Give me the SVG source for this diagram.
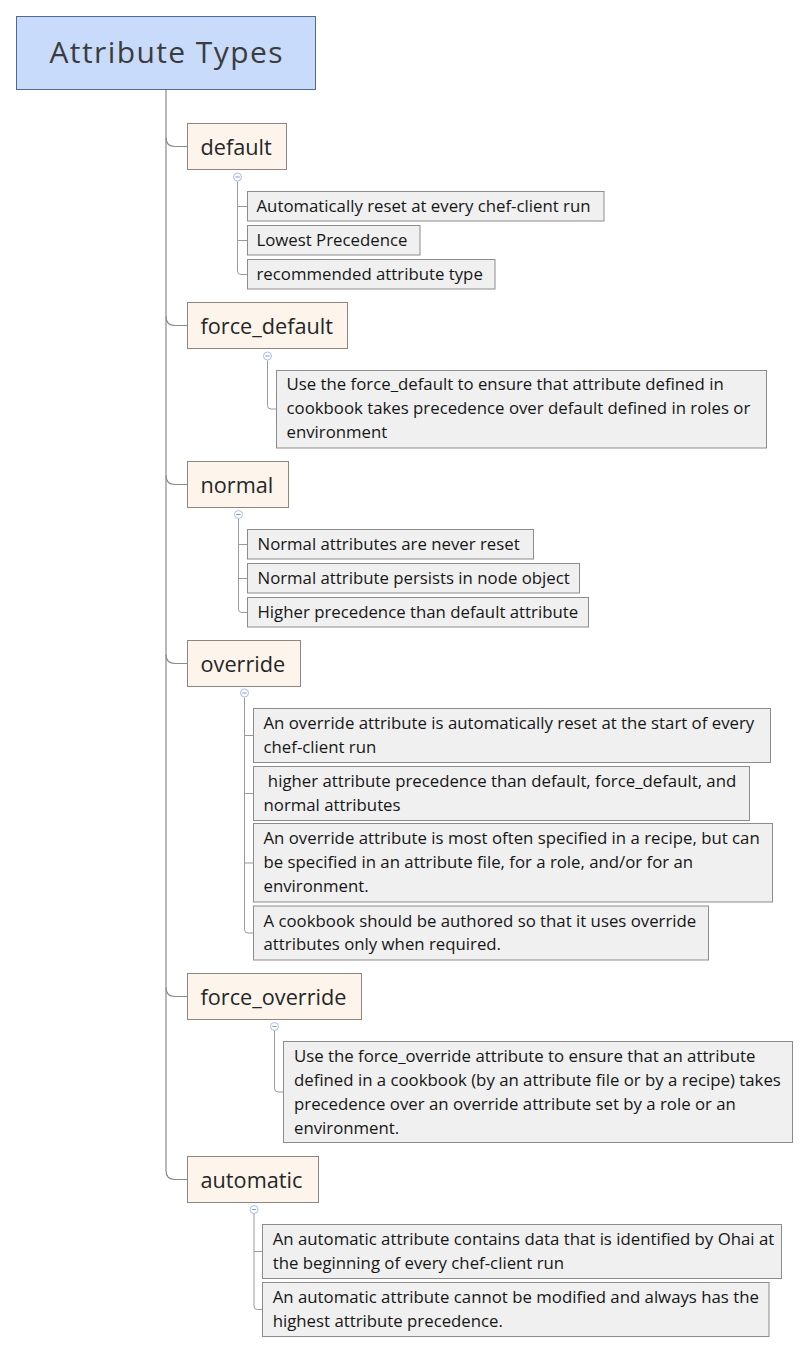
<svg xmlns="http://www.w3.org/2000/svg" width="809" height="1353" viewBox="0 0 809 1353">
<style>
.bg{fill:#ffffff}
.root rect{fill:#c9dbfa;stroke:#50698f;stroke-width:1}
.root text{font-family:"Open Sans","Noto Sans","Liberation Sans",sans-serif;font-size:30px;fill:#3c3c3c;letter-spacing:1.4px}
.topic rect{fill:#fdf4ec;stroke:#8f8580;stroke-width:1}
.topic text{font-family:"Open Sans","Noto Sans","Liberation Sans",sans-serif;font-size:21.7px;fill:#262626}
.leaf rect{fill:#f0f0f0;stroke:#8c8c8c;stroke-width:1}
.leaf text{font-family:"Open Sans","Noto Sans","Liberation Sans",sans-serif;font-size:16.8px;fill:#161616}
.trunk{fill:none;stroke:#8a8a8a;stroke-width:1.2}
.sub{fill:none;stroke:#9a9a9a;stroke-width:1}
.col circle{fill:#ffffff;stroke:#a7bde6;stroke-width:1}
.col line{stroke:#7f9bd0;stroke-width:1}
</style>
<rect class="bg" x="0" y="0" width="809" height="1353"/>

<g id="connectors">
  <path class="trunk" d="M166,89.5 V1170.5 Q166,1179.5 175,1179.5 H187.5"/>
  <path class="trunk" d="M166,137.5 Q166,146.5 175,146.5 H187.5"/>
  <path class="trunk" d="M166,316.5 Q166,325.5 175,325.5 H187.5"/>
  <path class="trunk" d="M166,475.5 Q166,484.5 175,484.5 H187.5"/>
  <path class="trunk" d="M166,654.5 Q166,663.5 175,663.5 H187.5"/>
  <path class="trunk" d="M166,987.5 Q166,996.5 175,996.5 H187.5"/>

  <path class="sub" d="M237.5,181.5 V271 Q237.5,274.5 241,274.5 H247.5 M237.5,206.5 H247.5 M237.5,240.5 H247.5"/>
  <path class="sub" d="M267.5,360.5 V405.5 Q267.5,409 271,409 H276.5"/>
  <path class="sub" d="M238.5,519 V609 Q238.5,612.5 242,612.5 H247.5 M238.5,544.5 H247.5 M238.5,578.5 H247.5"/>
  <path class="sub" d="M244.5,697.5 V929.5 Q244.5,933 248,933 H253.5 M244.5,735.5 H253.5 M244.5,793.5 H253.5 M244.5,863 H253.5"/>
  <path class="sub" d="M274.5,1031 V1088.5 Q274.5,1092 278,1092 H283.5"/>
  <path class="sub" d="M254,1214 V1306 Q254,1309.5 257.5,1309.5 H262.5 M254,1251.5 H262.5"/>
</g>

<g id="root" class="root">
  <rect x="16.5" y="16.5" width="299" height="73"/>
  <text x="49.5" y="63.3">Attribute Types</text>
</g>

<g id="node-default" class="topic">
  <rect x="187.5" y="123.5" width="99" height="46"/>
  <text x="200.5" y="155">default</text>
</g>
<g id="node-force-default" class="topic">
  <rect x="187.5" y="302.5" width="160" height="46"/>
  <text x="200.5" y="333.7">force_default</text>
</g>
<g id="node-normal" class="topic">
  <rect x="187.5" y="461.5" width="101" height="46"/>
  <text x="200.5" y="492.8">normal</text>
</g>
<g id="node-override" class="topic">
  <rect x="187.5" y="640.5" width="113" height="46"/>
  <text x="200.5" y="671.8">override</text>
</g>
<g id="node-force-override" class="topic">
  <rect x="187.5" y="973.5" width="174" height="46"/>
  <text x="200.5" y="1004.5">force_override</text>
</g>
<g id="node-automatic" class="topic">
  <rect x="187.5" y="1156.5" width="131" height="46"/>
  <text x="200.5" y="1187.8">automatic</text>
</g>

<g id="collapse-markers" class="col">
  <circle cx="237.5" cy="177" r="4"/><line x1="235.3" y1="177" x2="239.7" y2="177"/>
  <circle cx="267.5" cy="356" r="4"/><line x1="265.3" y1="356" x2="269.7" y2="356"/>
  <circle cx="238.5" cy="514.5" r="4"/><line x1="236.3" y1="514.5" x2="240.7" y2="514.5"/>
  <circle cx="244.5" cy="693" r="4"/><line x1="242.3" y1="693" x2="246.7" y2="693"/>
  <circle cx="274.5" cy="1026.5" r="4"/><line x1="272.3" y1="1026.5" x2="276.7" y2="1026.5"/>
  <circle cx="254" cy="1209.5" r="4"/><line x1="251.8" y1="1209.5" x2="256.2" y2="1209.5"/>
</g>

<g id="default-1" class="leaf">
  <rect x="247.5" y="191.5" width="356.5" height="29.5"/>
  <text x="256.5" y="212">Automatically reset at every chef-client run</text>
</g>
<g id="default-2" class="leaf">
  <rect x="247.5" y="225.5" width="172.5" height="29.5"/>
  <text x="256.5" y="246">Lowest Precedence</text>
</g>
<g id="default-3" class="leaf">
  <rect x="247.5" y="259.5" width="247.5" height="29.5"/>
  <text x="256.5" y="280">recommended attribute type</text>
</g>

<g id="force-default-1" class="leaf">
  <rect x="276.5" y="370.5" width="490" height="77.5"/>
  <text x="286.5" y="390">Use the force_default to ensure that attribute defined in</text>
  <text x="286.5" y="414">cookbook takes precedence over default defined in roles or</text>
  <text x="286.5" y="438">environment</text>
</g>

<g id="normal-1" class="leaf">
  <rect x="247.5" y="529.5" width="286" height="29.5"/>
  <text x="257.5" y="550">Normal attributes are never reset</text>
</g>
<g id="normal-2" class="leaf">
  <rect x="247.5" y="563.5" width="332" height="29.5"/>
  <text x="257.5" y="584">Normal attribute persists in node object</text>
</g>
<g id="normal-3" class="leaf">
  <rect x="247.5" y="597.5" width="341" height="29.5"/>
  <text x="257.5" y="618">Higher precedence than default attribute</text>
</g>

<g id="override-1" class="leaf">
  <rect x="253.5" y="708.5" width="517" height="54"/>
  <text x="263.5" y="729">An override attribute is automatically reset at the start of every</text>
  <text x="263.5" y="753">chef-client run</text>
</g>
<g id="override-2" class="leaf">
  <rect x="253.5" y="766.5" width="496" height="54"/>
  <text x="263.5" y="787" xml:space="preserve"> higher attribute precedence than default, force_default, and</text>
  <text x="263.5" y="811">normal attributes</text>
</g>
<g id="override-3" class="leaf">
  <rect x="253.5" y="823.5" width="519" height="78.5"/>
  <text x="263.5" y="844.3">An override attribute is most often specified in a recipe, but can</text>
  <text x="263.5" y="868.3">be specified in an attribute file, for a role, and/or for an</text>
  <text x="263.5" y="892.3">environment.</text>
</g>
<g id="override-4" class="leaf">
  <rect x="253.5" y="906" width="455" height="54"/>
  <text x="263.5" y="926.5">A cookbook should be authored so that it uses override</text>
  <text x="263.5" y="950.3">attributes only when required.</text>
</g>

<g id="force-override-1" class="leaf">
  <rect x="283.5" y="1041.5" width="509" height="101"/>
  <text x="294" y="1061.7">Use the force_override attribute to ensure that an attribute</text>
  <text x="294" y="1085.7">defined in a cookbook (by an attribute file or by a recipe) takes</text>
  <text x="294" y="1109.7">precedence over an override attribute set by a role or an</text>
  <text x="294" y="1133.7">environment.</text>
</g>

<g id="automatic-1" class="leaf">
  <rect x="262.5" y="1224.5" width="519" height="54"/>
  <text x="272.7" y="1245">An automatic attribute contains data that is identified by Ohai at</text>
  <text x="272.7" y="1269">the beginning of every chef-client run</text>
</g>
<g id="automatic-2" class="leaf">
  <rect x="262.5" y="1282.5" width="506.5" height="54"/>
  <text x="272.7" y="1303">An automatic attribute cannot be modified and always has the</text>
  <text x="272.7" y="1327">highest attribute precedence.</text>
</g>
</svg>
